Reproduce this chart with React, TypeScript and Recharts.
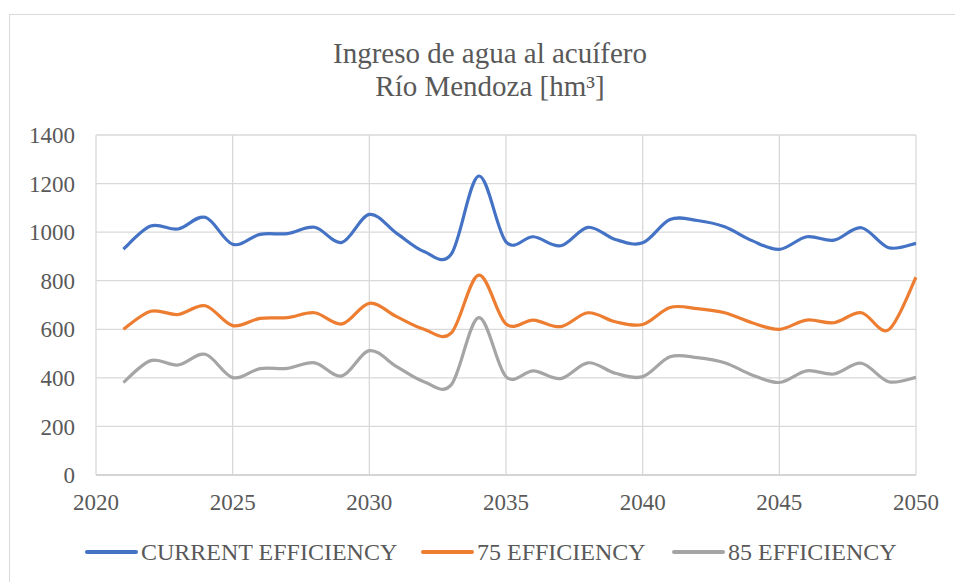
import React from "react";
import { LineChart, Line, XAxis, YAxis, CartesianGrid } from "recharts";

// --- Data ---
const years = [
  2021, 2022, 2023, 2024, 2025, 2026, 2027, 2028, 2029, 2030,
  2031, 2032, 2033, 2034, 2035, 2036, 2037, 2038, 2039, 2040,
  2041, 2042, 2043, 2044, 2045, 2046, 2047, 2048, 2049, 2050,
];
const currentEff = [
  930, 1025, 1013, 1061, 950, 991, 994, 1020, 958, 1073,
  995, 920, 910, 1231, 960, 981, 944, 1020, 970, 956,
  1052, 1048, 1022, 965, 929, 981, 967, 1018, 936, 954,
];
const eff75 = [
  600, 674, 661, 697, 615, 645, 648, 668, 622, 707,
  652, 600, 585, 823, 622, 638, 611, 668, 631, 620,
  690, 685, 668, 627, 600, 638, 627, 668, 598, 814,
];
const eff85 = [
  381, 471, 453, 497, 401, 438, 439, 462, 408, 512,
  446, 384, 372, 648, 405, 429, 397, 462, 419, 405,
  487, 483, 462, 412, 381, 429, 416, 460, 384, 402,
];
const xTicks = [2020, 2025, 2030, 2035, 2040, 2045, 2050];
const yTicks = [0, 200, 400, 600, 800, 1000, 1200, 1400];

const series = [
  { key: "current", name: "CURRENT EFFICIENCY", color: "#4472C4" },
  { key: "e75", name: "75 EFFICIENCY", color: "#ED7D31" },
  { key: "e85", name: "85 EFFICIENCY", color: "#A5A5A5" },
];
// legend item left edges
const legendLeft = [85, 421, 672];

const data = years.map((y, i) => ({
  year: y,
  current: currentEff[i],
  e75: eff75[i],
  e85: eff85[i],
}));

// Excel-style smoothed line (Catmull-Rom through the points)
const smoothCurve = (context: any) => {
  let pts: [number, number][] = [];
  return {
    areaStart() {},
    areaEnd() {},
    lineStart() {
      pts = [];
    },
    point(x: number, y: number) {
      pts.push([+x, +y]);
    },
    lineEnd() {
      if (!pts.length) return;
      context.moveTo(pts[0][0], pts[0][1]);
      for (let i = 0; i < pts.length - 1; i++) {
        const p0 = pts[i - 1] || pts[i];
        const p1 = pts[i];
        const p2 = pts[i + 1];
        const p3 = pts[i + 2] || p2;
        context.bezierCurveTo(
          p1[0] + (p2[0] - p0[0]) / 6,
          p1[1] + (p2[1] - p0[1]) / 6,
          p2[0] - (p3[0] - p1[0]) / 6,
          p2[1] - (p3[1] - p1[1]) / 6,
          p2[0],
          p2[1]
        );
      }
    },
  };
};

const FONT = '"Liberation Serif", "Times New Roman", serif';
const TEXT = "#595959";

export default function App() {
  return (
    <div
      style={{
        position: "absolute",
        left: 0,
        top: 0,
        width: 955,
        height: 582,
        background: "#fff",
        overflow: "hidden",
        fontFamily: FONT,
        color: TEXT,
      }}
    >
      {/* chart frame */}
      <div
        style={{
          position: "absolute",
          left: 9,
          top: 14,
          width: 960,
          height: 600,
          borderLeft: "1.5px solid #d9d9d9",
          borderTop: "1.5px solid #d9d9d9",
        }}
      />

      {/* title */}
      <div
        style={{
          position: "absolute",
          left: 0,
          top: 37,
          width: 980,
          textAlign: "center",
          fontSize: 29,
          lineHeight: "33px",
        }}
      >
        <div>Ingreso de agua al acuífero</div>
        <div>Río Mendoza [hm³]</div>
      </div>

      <div style={{ position: "absolute", left: 0, top: 0 }}>
        <LineChart
          width={955}
          height={582}
          data={data}
          margin={{ top: 135, right: 39, bottom: 77, left: 0 }}
        >
          <CartesianGrid stroke="#d9d9d9" strokeWidth={1.3} />
          <XAxis
            dataKey="year"
            type="number"
            domain={[2020, 2050]}
            ticks={xTicks}
            height={30}
            axisLine={{ stroke: "#d0d0d0", strokeWidth: 1.3 }}
            tickLine={false}
            tickMargin={13}
            tick={{ fill: TEXT, fontSize: 23, fontFamily: FONT }}
          />
          <YAxis
            domain={[0, 1400]}
            ticks={yTicks}
            width={96}
            axisLine={false}
            tickLine={false}
            tickMargin={15}
            tick={{ fill: TEXT, fontSize: 23, fontFamily: FONT }}
          />
          {series.map((s) => (
            <Line
              key={s.key}
              dataKey={s.key}
              name={s.name}
              type={smoothCurve as any}
              stroke={s.color}
              strokeWidth={3.2}
              dot={false}
              activeDot={false}
              isAnimationActive={false}
            />
          ))}
        </LineChart>
      </div>

      {/* legend */}
      {series.map((s, i) => (
        <div
          key={s.key}
          style={{
            position: "absolute",
            left: legendLeft[i],
            top: 538,
            display: "flex",
            alignItems: "center",
            fontSize: 24,
            lineHeight: "28px",
            whiteSpace: "nowrap",
          }}
        >
          <span
            style={{
              display: "inline-block",
              width: 53,
              height: 4,
              borderRadius: 2,
              background: s.color,
              marginRight: 3,
            }}
          />
          <span>{s.name}</span>
        </div>
      ))}
    </div>
  );
}
